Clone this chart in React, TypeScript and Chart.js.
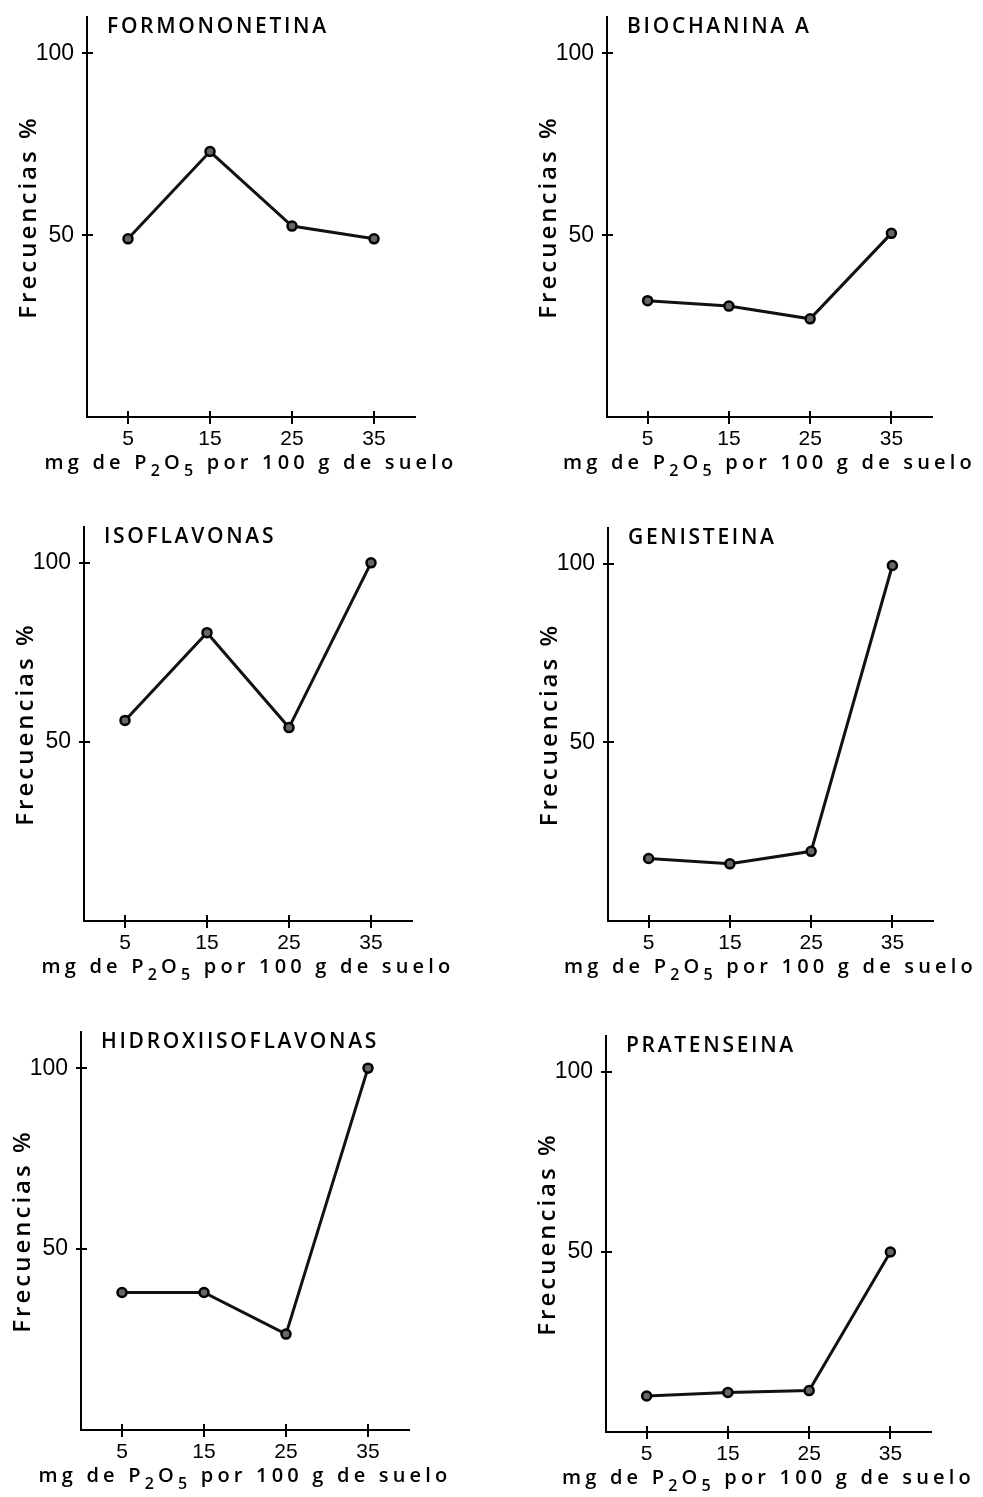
import React, { useEffect, useRef } from 'react';
import { Chart, registerables } from 'chart.js';

Chart.register(...registerables);

// ---------- data ----------
const doses = [5, 15, 25, 35];
const xTickValues = [5, 15, 25, 35];
const yTickValues = [50, 100];

const formononetina = [49, 73, 52.5, 49];
const biochaninaA = [32, 30.5, 27, 50.5];
const isoflavonas = [56, 80.5, 54, 100];
const genisteina = [17.5, 16, 19.5, 99.5];
const hidroxiisoflavonas = [38, 38, 26.5, 100];
const pratenseina = [10, 11, 11.5, 50];

const panelTitles = [
  'FORMONONETINA',
  'BIOCHANINA A',
  'ISOFLAVONAS',
  'GENISTEINA',
  'HIDROXIISOFLAVONAS',
  'PRATENSEINA',
];
const panelSeries = [formononetina, biochaninaA, isoflavonas, genisteina, hidroxiisoflavonas, pratenseina];

const yAxisTitle = 'Frecuencias %';
// x-axis title, split so that the subscripts can be lowered
const xAxisTitleParts = [
  { text: 'mg de P', sub: false },
  { text: '2', sub: true },
  { text: 'O', sub: false },
  { text: '5', sub: true },
  { text: ' por 100 g de suelo', sub: false },
];

// ---------- layout (plot-area boxes in page pixels) ----------
const plotBoxes = [
  { left: 87, top: 17, width: 328, height: 400 },
  { left: 607, top: 17, width: 325, height: 400 },
  { left: 84, top: 527, width: 328, height: 394 },
  { left: 608, top: 528, width: 325, height: 393 },
  { left: 81, top: 1032, width: 328, height: 398 },
  { left: 606, top: 1036, width: 325, height: 396 },
];
const M_LEFT = 72;
const M_TOP = 12;
const M_RIGHT = 50;
const M_BOTTOM = 64;

const TEXT_FAMILY = '"Open Sans", "DejaVu Sans", sans-serif';
const NUM_FAMILY = '"Liberation Sans", sans-serif';

const panelPlugin = {
  id: 'panelDecor',
  beforeDraw(chart: any) {
    chart.ctx.letterSpacing = '3px';
  },
  afterDatasetsDraw(chart: any) {
    chart.ctx.letterSpacing = '0px';
  },
  afterDraw(chart: any, _args: any, opts: any) {
    const ctx = chart.ctx;
    const a = chart.chartArea;
    const xs = chart.scales.x;
    const ys = chart.scales.y;
    ctx.save();
    ctx.strokeStyle = '#000';
    ctx.lineWidth = 2;
    ctx.beginPath();
    xs.ticks.forEach((t: any) => {
      const px = Math.round(xs.getPixelForValue(t.value));
      ctx.moveTo(px, a.bottom);
      ctx.lineTo(px, a.bottom - 6);
    });
    ys.ticks.forEach((t: any) => {
      const py = Math.round(ys.getPixelForValue(t.value));
      ctx.moveTo(a.left, py);
      ctx.lineTo(a.left + 6, py);
    });
    ctx.stroke();

    // panel title
    ctx.fillStyle = '#000';
    ctx.textAlign = 'left';
    ctx.textBaseline = 'alphabetic';
    ctx.font = '600 21px ' + TEXT_FAMILY;
    ctx.letterSpacing = '2.7px';
    ctx.fillText(opts.text, a.left + 20, a.top + 16);

    // x-axis title with subscripts
    const mainFont = '600 20px ' + TEXT_FAMILY;
    const subFont = '600 16px ' + TEXT_FAMILY;
    ctx.letterSpacing = '4.2px';
    let total = 0;
    const widths = xAxisTitleParts.map((p) => {
      ctx.font = p.sub ? subFont : mainFont;
      const w = ctx.measureText(p.text).width;
      total += w;
      return w;
    });
    let x = (a.left + a.right) / 2 - total / 2;
    const baseY = a.bottom + 52;
    xAxisTitleParts.forEach((p, i) => {
      ctx.font = p.sub ? subFont : mainFont;
      ctx.fillText(p.text, x, p.sub ? baseY + 7 : baseY);
      x += widths[i];
    });
    ctx.restore();
  },
};

function zeroPadding(s: any) {
  s.paddingTop = 0;
  s.paddingBottom = 0;
  s.paddingLeft = 0;
  s.paddingRight = 0;
}

function Panel({ index }: { index: number }) {
  const ref = useRef<HTMLCanvasElement | null>(null);
  const box = plotBoxes[index];
  const W = box.width + M_LEFT + M_RIGHT;
  const H = box.height + M_TOP + M_BOTTOM;

  useEffect(() => {
    const canvas = ref.current;
    if (!canvas) return;
    const series = panelSeries[index];
    const chart = new Chart(canvas, {
      type: 'line',
      data: {
        datasets: [
          {
            data: doses.map((x, i) => ({ x, y: series[i] })),
            borderColor: '#111',
            borderWidth: 3,
            pointRadius: 4.5,
            pointBorderWidth: 2.5,
            pointBorderColor: '#000',
            pointBackgroundColor: '#666',
            tension: 0,
          },
        ],
      },
      options: {
        animation: false,
        responsive: false,
        maintainAspectRatio: false,
        devicePixelRatio: 1,
        layout: { padding: { left: 0, top: M_TOP, right: M_RIGHT, bottom: 0 } },
        plugins: {
          legend: { display: false },
          tooltip: { enabled: false },
          title: { display: false },
          panelDecor: { text: panelTitles[index] },
        } as any,
        scales: {
          x: {
            type: 'linear',
            min: 0,
            max: 40,
            afterBuildTicks: (s: any) => {
              s.ticks = xTickValues.map((v) => ({ value: v }));
            },
            afterFit: (s: any) => {
              s.height = M_BOTTOM;
              zeroPadding(s);
            },
            grid: {
              display: true,
              drawOnChartArea: false,
              drawTicks: true,
              tickLength: 7,
              color: '#000',
              lineWidth: 2,
            },
            border: { display: true, color: '#000', width: 2 },
            ticks: {
              z: 1,
              autoSkip: false,
              maxRotation: 0,
              color: '#000',
              padding: 3,
              font: { family: NUM_FAMILY, size: 21 },
              callback: (v: any) => String(v),
            },
            title: { display: false },
          },
          y: {
            type: 'linear',
            min: 0,
            max: 110,
            afterBuildTicks: (s: any) => {
              s.ticks = yTickValues.map((v) => ({ value: v }));
            },
            afterFit: (s: any) => {
              s.width = M_LEFT;
              zeroPadding(s);
            },
            grid: {
              display: true,
              drawOnChartArea: false,
              drawTicks: true,
              tickLength: 5,
              color: '#000',
              lineWidth: 2,
            },
            border: { display: true, color: '#000', width: 2 },
            ticks: {
              z: 1,
              color: '#000',
              padding: 8,
              font: { family: NUM_FAMILY, size: 23 },
              callback: (v: any) => String(v),
            },
            title: {
              display: true,
              text: yAxisTitle,
              color: '#000',
              font: { family: TEXT_FAMILY, size: 24, weight: '600' },
              padding: { top: 0, bottom: 0 },
            },
          },
        },
      },
      plugins: [panelPlugin],
    } as any);
    return () => chart.destroy();
  }, [index]);

  return (
    <canvas
      ref={ref}
      width={W}
      height={H}
      style={{
        position: 'absolute',
        left: box.left - M_LEFT,
        top: box.top - M_TOP,
        width: W,
        height: H,
      }}
    />
  );
}

export default function App() {
  return (
    <div
      style={{
        position: 'absolute',
        left: 0,
        top: 0,
        width: 983,
        height: 1497,
        overflow: 'hidden',
        background: '#fff',
      }}
    >
      {panelTitles.map((_, i) => (
        <Panel key={i} index={i} />
      ))}
    </div>
  );
}
